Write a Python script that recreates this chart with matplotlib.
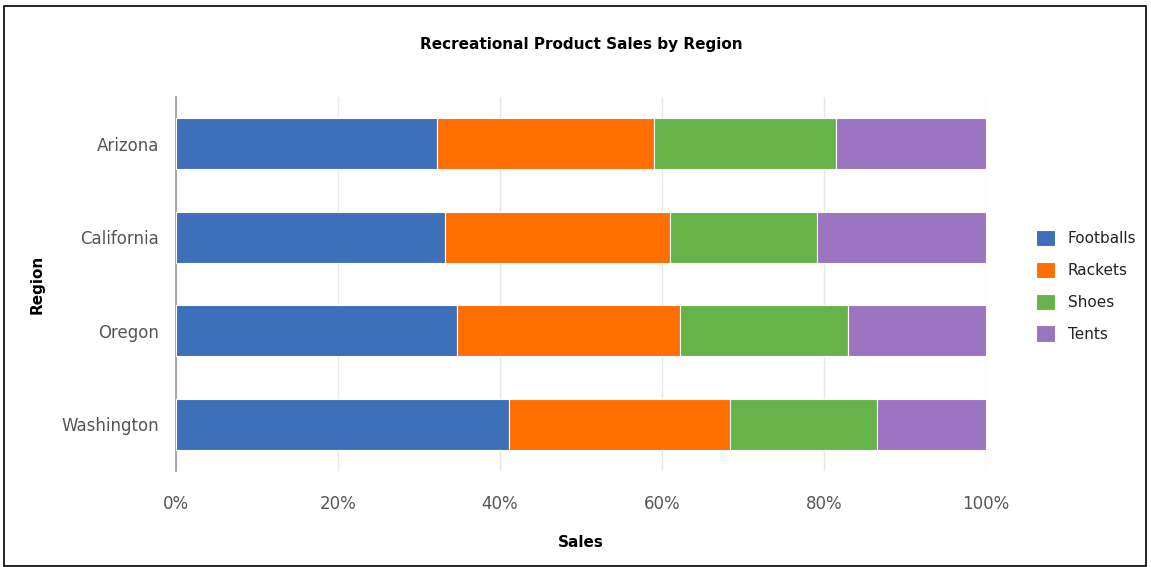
import matplotlib.pyplot as plt
from matplotlib.patches import Rectangle
from matplotlib.ticker import PercentFormatter

regions = ['Arizona', 'California', 'Oregon', 'Washington']
products = ['Footballs', 'Rackets', 'Shoes', 'Tents']
colors = ['#3D70B8', '#FF6E00', '#66B34A', '#9B73C0']

# share of sales per region (percent)
footballs = [32.2, 33.2, 34.7, 41.1]
rackets = [26.8, 27.8, 27.5, 27.3]
shoes = [22.5, 18.1, 20.8, 18.1]
tents = [18.5, 20.9, 17.0, 13.5]

series = [footballs, rackets, shoes, tents]

fig = plt.figure(figsize=(11.51, 5.67), dpi=100)
ax = fig.add_axes([176 / 1151, 1 - 471 / 567, 810 / 1151, 374 / 567])

left = [0] * len(regions)
for name, values, color in zip(products, series, colors):
    ax.barh(regions, values, left=left, height=0.55, color=color,
            edgecolor='white', linewidth=0.8, label=name, zorder=3)
    left = [l + v for l, v in zip(left, values)]

ax.set_xlim(0, 100)
ax.set_ylim(3.5, -0.5)
ax.set_xticks(range(0, 101, 20))
ax.xaxis.set_major_formatter(PercentFormatter(decimals=0))
ax.grid(axis='x', color='#E4E8EE', linewidth=1, zorder=0)
ax.tick_params(axis='both', length=0, labelsize=12, labelcolor='#555555')
ax.tick_params(axis='x', pad=17)
ax.tick_params(axis='y', pad=12)

for side in ['top', 'right', 'bottom']:
    ax.spines[side].set_visible(False)
ax.spines['left'].set_color('#999999')
ax.spines['left'].set_linewidth(1.2)

ax.set_xlabel('Sales', fontsize=11, fontweight='bold', labelpad=16)
ax.set_ylabel('Region', fontsize=11, fontweight='bold', labelpad=12)
fig.text(581 / 1151, 1 - 45 / 567, 'Recreational Product Sales by Region',
         ha='center', va='center', fontsize=11, fontweight='bold')

ax.legend(loc='center left', bbox_to_anchor=(1.045, 0.495), frameon=False,
          fontsize=11, handlelength=1.25, handleheight=1.25,
          labelspacing=1.02, handletextpad=0.8, labelcolor='#222222')

fig.patches.append(Rectangle((4 / 1151, 0.002), 1 - 9 / 1151, 1 - 6 / 567 - 0.002,
                             transform=fig.transFigure, fill=False,
                             edgecolor='black', linewidth=1.2))

fig.savefig('out.png', dpi=100)
